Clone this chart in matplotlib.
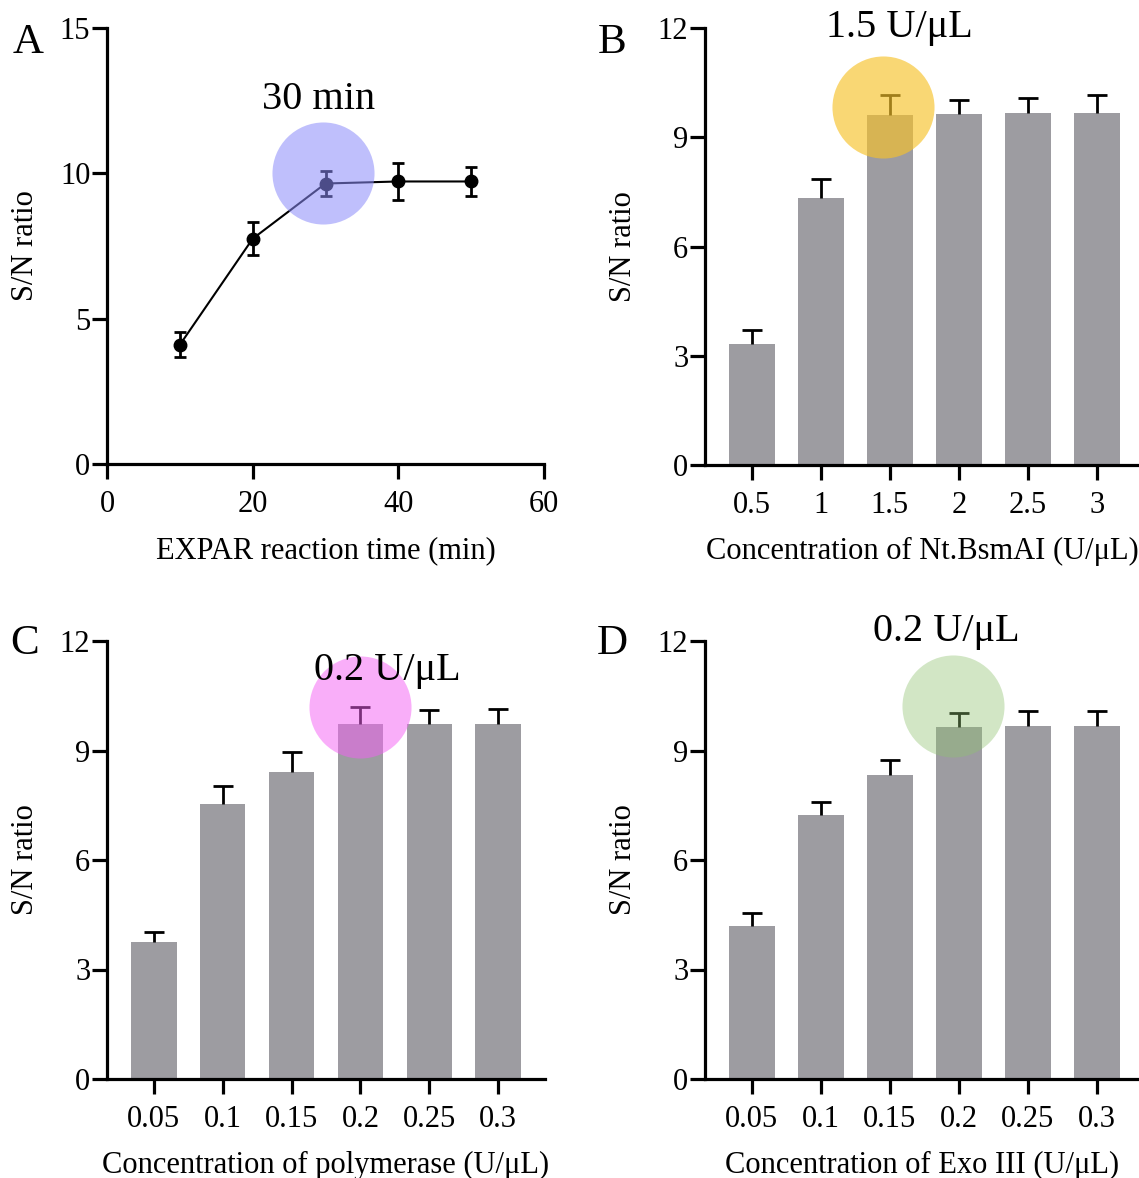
import numpy as np
import matplotlib
matplotlib.use("Agg")
import matplotlib.pyplot as plt

plt.rcParams["font.family"] = ["Liberation Serif", "DejaVu Serif"]
plt.rcParams["mathtext.fontset"] = "stix"

# Panel A: EXPAR reaction time
time_min = [10, 20, 30, 40, 50]
sn_time = [4.1, 7.75, 9.65, 9.72, 9.72]
err_time = [0.43, 0.56, 0.42, 0.65, 0.5]

# Panel B: Nt.BsmAI concentration
nick_labels = ["0.5", "1", "1.5", "2", "2.5", "3"]
sn_nick = [3.33, 7.32, 9.62, 9.65, 9.67, 9.67]
err_nick = [0.37, 0.52, 0.55, 0.36, 0.41, 0.5]

# Panel C: polymerase concentration
pol_labels = ["0.05", "0.1", "0.15", "0.2", "0.25", "0.3"]
sn_pol = [3.76, 7.53, 8.4, 9.72, 9.72, 9.72]
err_pol = [0.27, 0.5, 0.57, 0.47, 0.38, 0.43]

# Panel D: Exo III concentration
exo_labels = ["0.05", "0.1", "0.15", "0.2", "0.25", "0.3"]
sn_exo = [4.19, 7.22, 8.33, 9.64, 9.68, 9.68]
err_exo = [0.35, 0.36, 0.41, 0.4, 0.41, 0.41]

W, H = 1139, 1178
fig = plt.figure(figsize=(W / 100, H / 100), dpi=100)


def px_axes(left, top, right, bottom):
    return fig.add_axes([left / W, 1 - bottom / H, (right - left) / W, (bottom - top) / H])


BAR_COLOR = "#9d9ca1"
FS = 22


def style(ax):
    for s in ["top", "right"]:
        ax.spines[s].set_visible(False)
    for s in ["left", "bottom"]:
        ax.spines[s].set_linewidth(2.3)
    ax.tick_params(axis="both", direction="out", length=11, width=2.3, labelsize=FS)
    ax.tick_params(axis="y", pad=1)
    ax.tick_params(axis="x", pad=8)
    ax.set_ylabel("S/N ratio", fontsize=FS, labelpad=14)


def bar_panel(ax, labels, vals, errs, xlabel, circ_x, circ_y, circ_col, circ_alpha,
              txt, txt_x, txt_y, xmax):
    x = np.arange(len(labels))
    ax.bar(x, vals, width=0.66, color=BAR_COLOR, zorder=2)
    eb = ax.errorbar(x, vals, yerr=[np.zeros(len(errs)), errs], fmt="none", ecolor="black",
                     elinewidth=2, capsize=7, capthick=2, zorder=3)
    # only the upper cap is visible in the original
    eb[1][0].set_visible(False)
    ax.scatter([circ_x], [circ_y], s=5400, color=circ_col, alpha=circ_alpha, lw=0, zorder=4,
               clip_on=False)
    ax.text(txt_x, txt_y, txt, fontsize=29, ha="center", va="center", zorder=5)
    ax.set_xticks(x)
    ax.set_xticklabels(labels)
    ax.set_xlim(-0.68, xmax)
    ax.set_ylim(0, 12)
    ax.set_yticks([0, 3, 6, 9, 12])
    ax.set_xlabel(xlabel, fontsize=FS, labelpad=12)
    style(ax)


# A
axA = px_axes(107, 28, 544, 464)
axA.errorbar(time_min, sn_time, yerr=err_time, color="black", lw=1.5, marker="o", ms=9,
             ecolor="black", elinewidth=2, capsize=4, capthick=2, zorder=2)
axA.scatter([29.6], [10.0], s=5400, color="#8c8cfa", alpha=0.55, lw=0, zorder=4)
axA.text(29, 12.55, "30 min", fontsize=29, ha="center", va="center")
axA.set_xlim(0, 60)
axA.set_ylim(0, 15)
axA.set_xticks([0, 20, 40, 60])
axA.set_yticks([0, 5, 10, 15])
axA.set_xlabel("EXPAR reaction time (min)", fontsize=FS, labelpad=12)
style(axA)

# B
axB = px_axes(705, 28, 1139, 465)
bar_panel(axB, nick_labels, sn_nick, err_nick, "Concentration of Nt.BsmAI (U/\u03bcL)",
          1.9, 9.84, "#f7c22a", 0.65, "1.5 U/\u03bcL", 2.13, 12.0, 5.61)

# C
axC = px_axes(107, 641, 545, 1079)
bar_panel(axC, pol_labels, sn_pol, err_pol, "Concentration of polymerase (U/\u03bcL)",
          3.0, 10.2, "#f55ff5", 0.5, "0.2 U/\u03bcL", 3.39, 11.2, 5.68)

# D
axD = px_axes(705, 641, 1139, 1079)
bar_panel(axD, exo_labels, sn_exo, err_exo, "Concentration of Exo III (U/\u03bcL)",
          2.91, 10.21, "#8fc26f", 0.4, "0.2 U/\u03bcL", 2.82, 12.27, 5.61)

for lab, xp, yp in [("A", 28, 43), ("B", 612, 43), ("C", 25, 644), ("D", 612, 644)]:
    fig.text(xp / W, 1 - yp / H, lab, fontsize=31, ha="center", va="center")

fig.savefig("out.png", dpi=100)
